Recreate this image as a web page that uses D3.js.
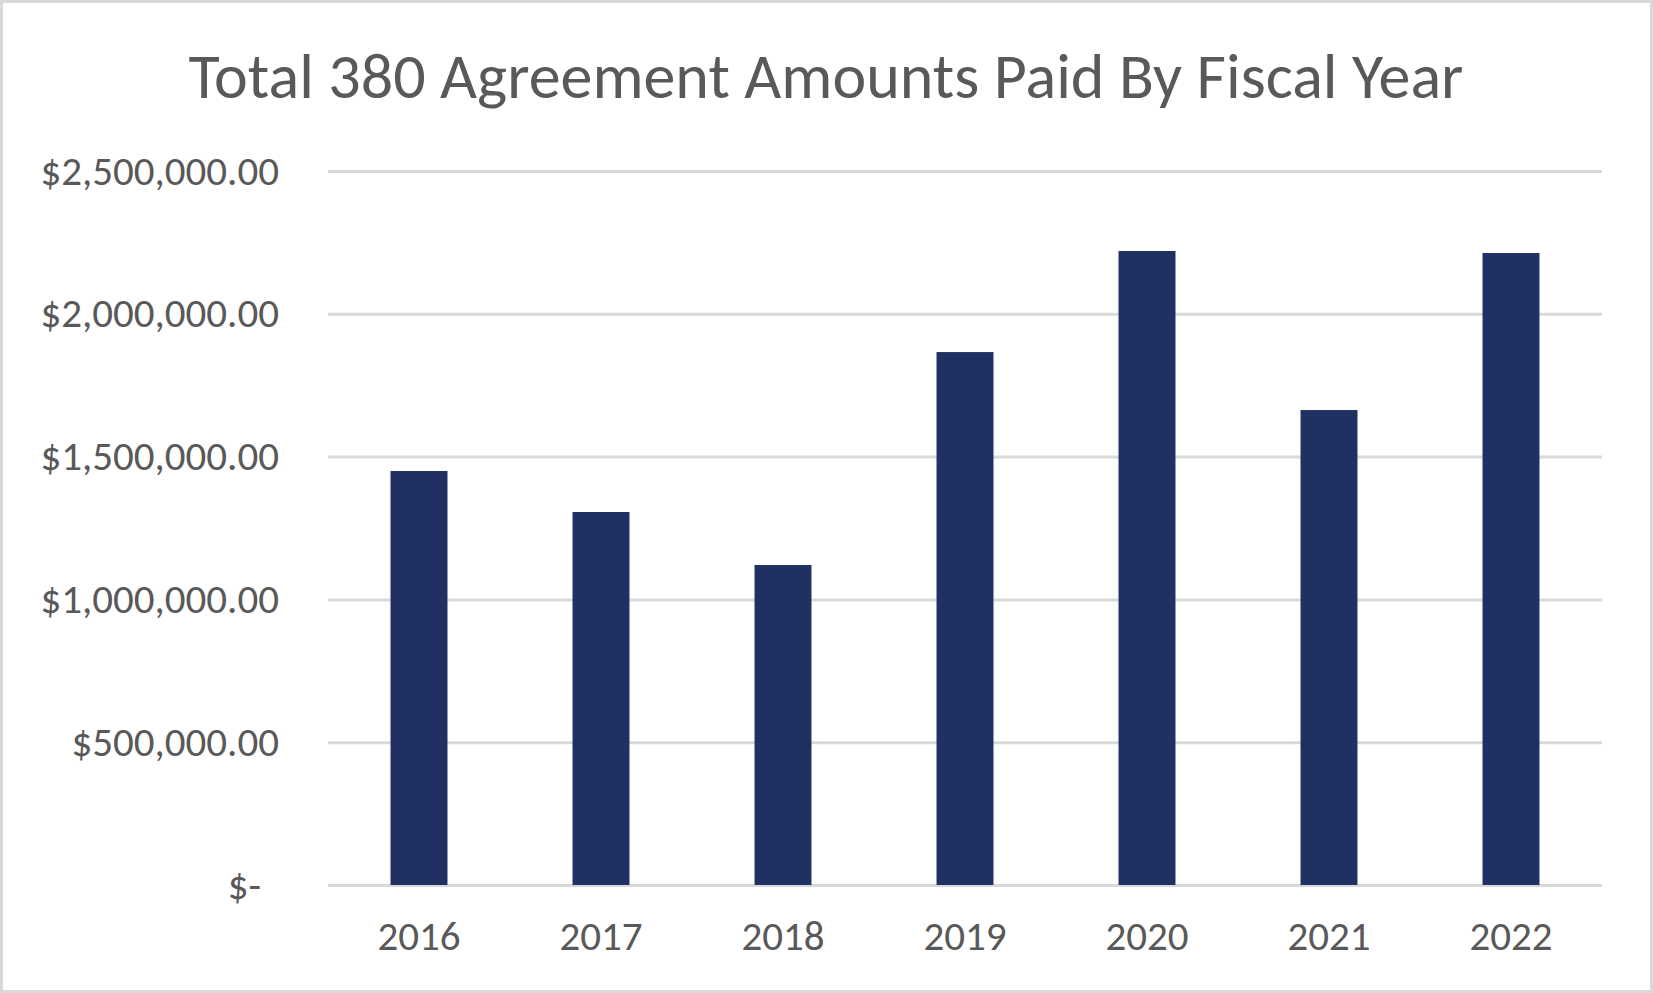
<!DOCTYPE html>
<html>
<head>
<meta charset="utf-8">
<script src="https://cdn.jsdelivr.net/npm/d3@7"></script>
<style>
  body { margin: 0; background: #fff; }
  text { font-family: Carlito, Lato, "Open Sans", sans-serif; fill: #595959; }
</style>
</head>
<body>
<svg width="1653" height="993"></svg>
<script>
var years = ["2016", "2017", "2018", "2019", "2020", "2021", "2022"];
var amounts = [1449600, 1306000, 1120400, 1866000, 2219900, 1663000, 2212900];
var yTicks = [0, 500000, 1000000, 1500000, 2000000, 2500000];
var yTickLabels = ["$-", "$500,000.00", "$1,000,000.00", "$1,500,000.00", "$2,000,000.00", "$2,500,000.00"];
var title = "Total 380 Agreement Amounts Paid By Fiscal Year";

var svg = d3.select("svg"),
    margin = {top: 171, right: 51, bottom: 108, left: 328},
    width = +svg.attr("width") - margin.left - margin.right,
    height = +svg.attr("height") - margin.top - margin.bottom;

// chart frame
svg.append("rect")
    .attr("x", 1.5).attr("y", 1.5)
    .attr("width", 1650).attr("height", 990)
    .attr("fill", "#fff")
    .attr("stroke", "#d9d9d9")
    .attr("stroke-width", 3);

svg.append("text")
    .attr("x", 826)
    .attr("y", 98)
    .attr("text-anchor", "middle")
    .style("font-size", "64px")
    .text(title);

var xScale = d3.scaleBand().domain(years).range([0, width])
        .paddingInner(0.687).paddingOuter(0.3435),
    yScale = d3.scaleLinear().domain([0, 2500000]).range([height, 0]);

var g = svg.append("g")
    .attr("transform", "translate(" + margin.left + "," + margin.top + ")");

// gridlines
g.append("g")
    .call(d3.axisLeft(yScale).tickValues(yTicks).tickSize(-width).tickFormat(""))
    .call(function(a) {
        a.select(".domain").remove();
        a.selectAll("line").attr("stroke", "#d9d9d9").attr("stroke-width", 3);
    });

g.selectAll(".bar")
    .data(amounts)
    .enter().append("rect")
    .attr("class", "bar")
    .attr("x", function(d, i) { return xScale(years[i]); })
    .attr("y", function(d) { return yScale(d); })
    .attr("width", xScale.bandwidth())
    .attr("height", function(d) { return height - yScale(d); })
    .attr("fill", "#213063");

// y axis labels
g.append("g")
    .attr("transform", "translate(-46,0)")
    .call(d3.axisLeft(yScale).tickValues(yTicks).tickSize(0)
        .tickFormat(function(d, i) { return yTickLabels[i]; }))
    .call(function(a) {
        a.select(".domain").remove();
        a.selectAll("text")
            .style("font-size", "41px")
            .attr("fill", "#595959")
            .attr("dx", function(d) { return d === 0 ? -18 : 0; });
    });

// x axis labels
g.append("g")
    .attr("transform", "translate(0," + height + ")")
    .call(d3.axisBottom(xScale).tickSize(0).tickPadding(36))
    .call(function(a) {
        a.select(".domain").remove();
        a.selectAll("text").style("font-size", "41px").attr("fill", "#595959");
    });
</script>
</body>
</html>
